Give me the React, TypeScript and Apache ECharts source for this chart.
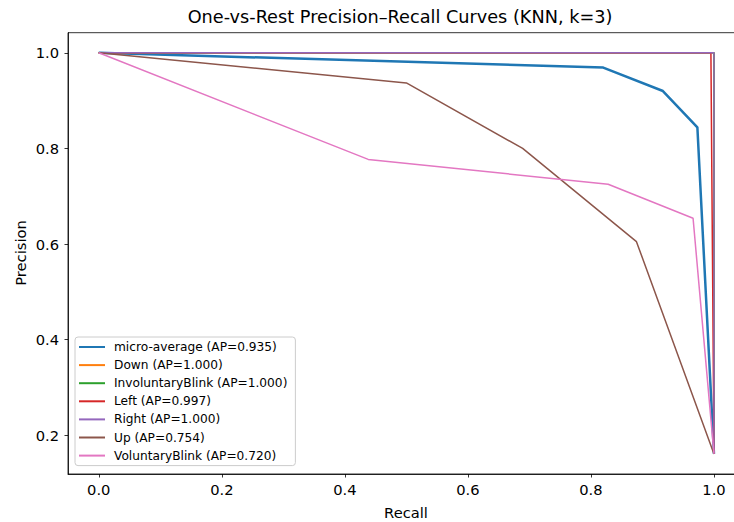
import React, { useEffect, useRef } from "react";
import * as echarts from "echarts";

const xTicks = [0, 0.2, 0.4, 0.6, 0.8, 1.0];
const yTicks = [0.2, 0.4, 0.6, 0.8, 1.0];

const classNames = [
  "micro-average (AP=0.935)",
  "Down (AP=1.000)",
  "InvoluntaryBlink (AP=1.000)",
  "Left (AP=0.997)",
  "Right (AP=1.000)",
  "Up (AP=0.754)",
  "VoluntaryBlink (AP=0.720)",
];
const colors = ["#1f77b4", "#ff7f0e", "#2ca02c", "#d62728", "#9467bd", "#8c564b", "#e377c2"];
const lineWidths = [2.5, 1.5, 1.5, 1.5, 1.5, 1.5, 1.5];

const microRecall = [0, 0.82, 0.917, 0.973, 1.0];
const microPrecision = [1.0, 0.969, 0.92, 0.844, 0.161];
const downRecall = [0, 1.0, 1.0];
const downPrecision = [1.0, 1.0, 0.161];
const involRecall = [0, 1.0, 1.0];
const involPrecision = [1.0, 1.0, 0.161];
const leftRecall = [0, 0.995, 1.0];
const leftPrecision = [1.0, 1.0, 0.161];
const rightRecall = [0, 1.0, 1.0];
const rightPrecision = [1.0, 1.0, 0.161];
const upRecall = [0, 0.5, 0.689, 0.874, 1.0];
const upPrecision = [1.0, 0.937, 0.8, 0.605, 0.161];
const volRecall = [0, 0.438, 0.828, 0.966, 1.0];
const volPrecision = [1.0, 0.777, 0.725, 0.654, 0.161];

const curves = [
  [microRecall, microPrecision],
  [downRecall, downPrecision],
  [involRecall, involPrecision],
  [leftRecall, leftPrecision],
  [rightRecall, rightPrecision],
  [upRecall, upPrecision],
  [volRecall, volPrecision],
];

const FONT = "DejaVu Sans";

export default function App() {
  const ref = useRef<HTMLDivElement>(null);
  useEffect(() => {
    if (!ref.current) return;
    const chart = echarts.init(ref.current, null, { renderer: "svg" });
    const series = curves.map((c, i) => ({
      name: classNames[i],
      type: "line",
      data: c[0].map((x, j) => [x, c[1][j]]),
      symbol: "none",
      lineStyle: { color: colors[i], width: lineWidths[i] },
      itemStyle: { color: colors[i] },
      clip: true,
    }));
    chart.setOption({
      animation: false,
      backgroundColor: "#ffffff",
      textStyle: { fontFamily: FONT },
      grid: {
        left: 68,
        top: 32.7,
        bottom: 48,
        right: 1.25,
        show: true,
        borderColor: "#000",
        borderWidth: 0.8,
        backgroundColor: "transparent",
      },
      graphic: [
        {
          type: "text",
          x: 400,
          y: 17,
          style: {
            text: "One-vs-Rest Precision\u2013Recall Curves (KNN, k=3)",
            fontFamily: FONT,
            fontSize: 17.7,
            fill: "#000",
            textAlign: "center",
            textVerticalAlign: "middle",
          },
        },
        {
          type: "text",
          x: 406,
          y: 512,
          style: {
            text: "Recall",
            fontFamily: FONT,
            fontSize: 14.7,
            fill: "#000",
            textAlign: "center",
            textVerticalAlign: "middle",
          },
        },
        {
          type: "text",
          x: 20,
          y: 253,
          rotation: Math.PI / 2,
          style: {
            text: "Precision",
            fontFamily: FONT,
            fontSize: 14.7,
            fill: "#000",
            textAlign: "center",
            textVerticalAlign: "middle",
          },
        },
      ],
      xAxis: {
        type: "value",
        min: -0.05,
        max: 1.05,
        axisLine: { show: true, onZero: false, lineStyle: { color: "#000", width: 0.8 } },
        axisTick: { show: true, length: 3.5, lineStyle: { color: "#000", width: 0.8 }, customValues: xTicks },
        axisLabel: {
          customValues: xTicks,
          margin: 8,
          fontFamily: FONT,
          fontSize: 14.7,
          color: "#000",
          formatter: (v: number) => v.toFixed(1),
        },
        splitLine: { show: false },
      },
      yAxis: {
        type: "value",
        min: 0.119,
        max: 1.042,
        axisLine: { show: true, onZero: false, lineStyle: { color: "#000", width: 0.8 } },
        axisTick: { show: true, length: 3.5, lineStyle: { color: "#000", width: 0.8 }, customValues: yTicks },
        axisLabel: {
          customValues: yTicks,
          margin: 9,
          fontFamily: FONT,
          fontSize: 14.7,
          color: "#000",
          formatter: (v: number) => v.toFixed(1),
        },
        splitLine: { show: false },
      },
      legend: {
        orient: "vertical",
        left: 75,
        top: 337,
        itemWidth: 26,
        itemHeight: 14,
        itemGap: 6.1,
        padding: [4, 8, 4, 3],
        backgroundColor: "rgba(255,255,255,0.8)",
        borderColor: "#cccccc",
        borderWidth: 1,
        borderRadius: 3,
        itemStyle: { opacity: 0, borderWidth: 0 },
        textStyle: { fontFamily: FONT, fontSize: 12.2, color: "#000", padding: [0, 0, 0, 4] },
        data: classNames,
      },
      series,
    });
    return () => chart.dispose();
  }, []);
  return (
    <div style={{ position: "fixed", left: 0, top: 0, width: 734, height: 522, overflow: "hidden", background: "#fff" }}>
      <div ref={ref} style={{ width: 746, height: 522 }} />
    </div>
  );
}
